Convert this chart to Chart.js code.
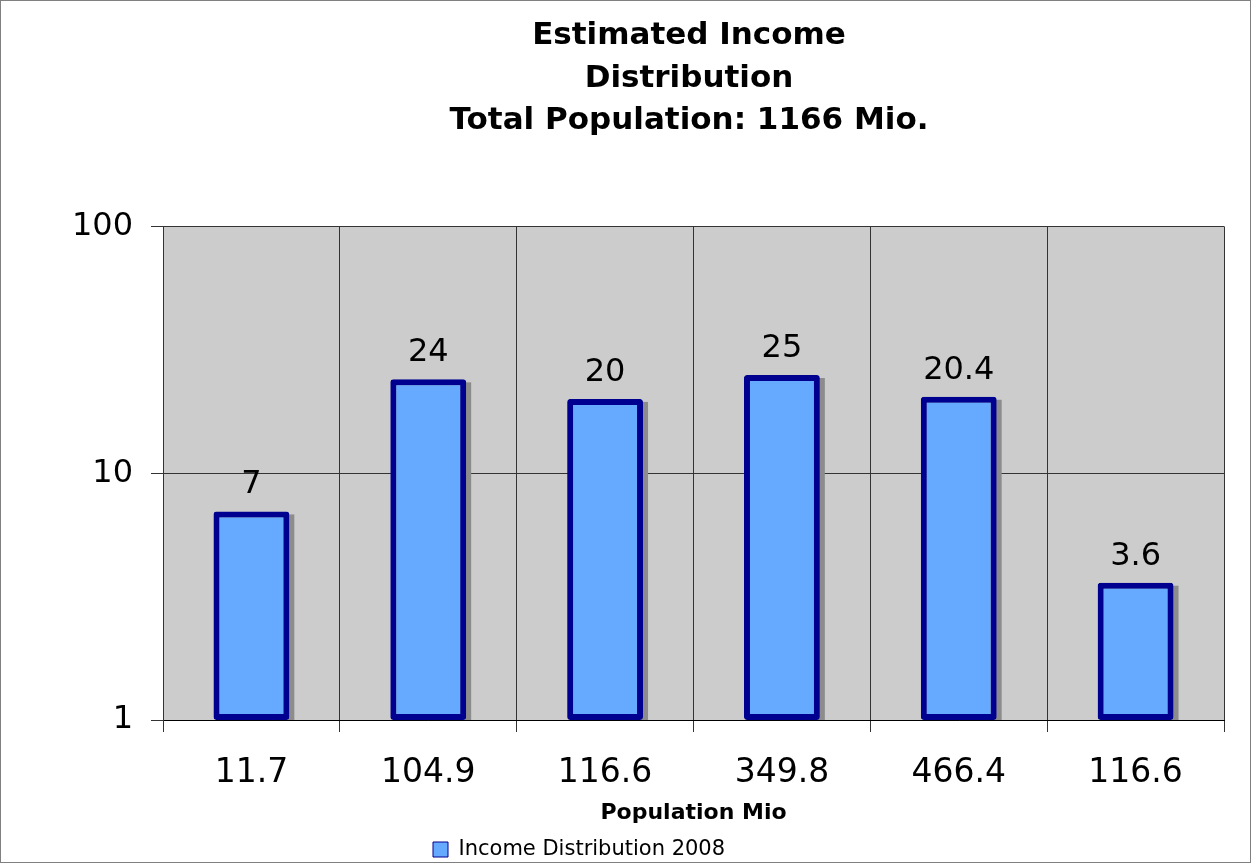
<!DOCTYPE html>
<html>
<head>
<meta charset="utf-8">
<script src="https://cdn.jsdelivr.net/npm/chart.js@4/dist/chart.umd.min.js"></script>
<style>
html,body{margin:0;padding:0;background:#fff;}
#wrap{width:1252px;height:864px;position:relative;}
</style>
</head>
<body>
<div id="wrap"><canvas id="c" width="1252" height="864"></canvas></div>
<script>
const categories = ["11.7", "104.9", "116.6", "349.8", "466.4", "116.6"];
const incomeShare = [7, 24, 20, 25, 20.4, 3.6];
const valueLabels = ["7", "24", "20", "25", "20.4", "3.6"];
const yTicks = [1, 10, 100];
const seriesName = "Income Distribution 2008";
const titleLines = ["Estimated Income", "Distribution", "Total Population: 1166 Mio."];
const xAxisTitle = "Population Mio";

const FONT = "'DejaVu Sans', Verdana, sans-serif";

const decorPlugin = {
  id: 'decor',
  beforeDraw(chart) {
    const ctx = chart.ctx;
    ctx.save();
    ctx.fillStyle = '#ffffff';
    ctx.fillRect(0, 0, chart.width, chart.height);
    const a = chart.chartArea;
    ctx.fillStyle = '#cccccc';
    ctx.fillRect(a.left, a.top, a.right - a.left, a.bottom - a.top);
    ctx.strokeStyle = '#808080';
    ctx.lineWidth = 1;
    ctx.strokeRect(0.5, 0.5, chart.width - 2, chart.height - 2);
    ctx.restore();
    // place title and legend like the reference
    const tb = chart.titleBlock;
    if (tb) {
      const w = tb.right - tb.left;
      tb.left = 689 - w / 2;
      tb.right = tb.left + w;
    }
    const lg = chart.legend;
    if (lg) {
      const w = lg.right - lg.left;
      const h = lg.bottom - lg.top;
      lg.left = 431;
      lg.right = lg.left + w;
      lg.top = 837;
      lg.bottom = lg.top + h;
      if (lg.adjustHitBoxes) lg.adjustHitBoxes();
    }
  },
  beforeDatasetsDraw(chart) {
    const ctx = chart.ctx;
    const meta = chart.getDatasetMeta(0);
    ctx.save();
    ctx.fillStyle = '#8c8c8c';
    meta.data.forEach(bar => {
      const p = bar.getProps(['x', 'y', 'base', 'width'], true);
      ctx.fillRect(p.x - p.width / 2 + 5, p.y + 3, p.width, p.base - p.y - 3);
    });
    ctx.restore();
  },
  afterDatasetsDraw(chart) {
    const ctx = chart.ctx;
    const meta = chart.getDatasetMeta(0);
    ctx.save();
    ctx.fillStyle = '#000000';
    ctx.font = "32px " + FONT;
    ctx.textAlign = 'center';
    ctx.textBaseline = 'alphabetic';
    meta.data.forEach((bar, i) => {
      const p = bar.getProps(['x', 'y'], true);
      ctx.fillText(valueLabels[i], p.x, p.y - 18);
    });
    ctx.restore();
  }
};

new Chart(document.getElementById('c'), {
  type: 'bar',
  data: {
    labels: categories,
    datasets: [{
      label: seriesName,
      data: incomeShare,
      backgroundColor: '#66aaff',
      borderColor: '#000090',
      borderWidth: 6,
      borderRadius: 3,
      borderSkipped: false,
      categoryPercentage: 1.0,
      barPercentage: 0.429
    }]
  },
  options: {
    responsive: false,
    animation: false,
    layout: { padding: { left: 0, right: 28, top: 0, bottom: 0 } },
    scales: {
      x: {
        offset: true,
        grid: { offset: true, color: '#333333', lineWidth: 1, tickLength: 12, drawTicks: true },
        border: { color: '#000000', width: 1 },
        ticks: { color: '#000000', font: { family: FONT, size: 33 }, padding: 22 },
        title: { display: true, text: xAxisTitle, color: '#000000', font: { family: FONT, size: 22, weight: 'bold' }, padding: { top: 0, bottom: 5 } },
        afterFit(scale) { scale.height = 111; }
      },
      y: {
        type: 'logarithmic',
        min: 1,
        max: 100,
        grid: { color: '#333333', lineWidth: 1, tickLength: 12 },
        border: { color: '#333333', width: 1 },
        ticks: { color: '#000000', font: { family: FONT, size: 32 }, padding: 18, callback: v => String(v) },
        afterBuildTicks(scale) { scale.ticks = yTicks.map(v => ({ value: v })); },
        afterFit(scale) { scale.width = 163; }
      }
    },
    plugins: {
      title: {
        display: true,
        text: titleLines,
        color: '#000000',
        font: { family: FONT, size: 31, weight: 'bold', lineHeight: 1.37 },
        padding: { top: 15, bottom: 84 }
      },
      legend: {
        display: true,
        position: 'bottom',
        align: 'start',
        labels: {
          color: '#000000',
          font: { family: FONT, size: 21 },
          boxWidth: 15,
          boxHeight: 15,
          padding: 2,
          generateLabels(chart) {
            return [{ text: seriesName, fillStyle: '#66aaff', strokeStyle: '#000090', lineWidth: 1, hidden: false, datasetIndex: 0 }];
          }
        }
      },
      tooltip: { enabled: false }
    }
  },
  plugins: [decorPlugin]
});
</script>
</body>
</html>
